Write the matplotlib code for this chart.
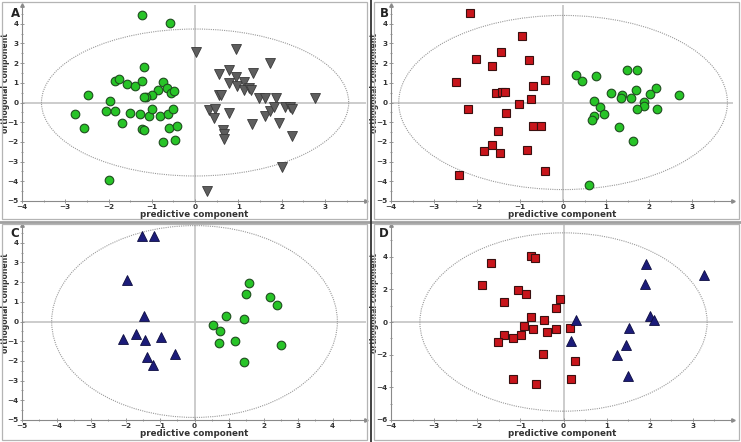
import numpy as np
import matplotlib; matplotlib.use("Agg")
import matplotlib.pyplot as plt
from matplotlib.patches import Ellipse, Rectangle
from matplotlib.lines import Line2D

# ---- data (predictive, orthogonal) ----
a_green_x = [-1.22, -0.57, -1.19, -1.86, -1.76, -1.58, -1.40, -1.22, -0.74, -0.65, -0.56, -0.48, -0.85,
             -1.00, -1.13, -1.17, -2.48, -1.96, -2.78, -2.56, -2.05, -1.84, -1.51, -1.27, -1.06, -1.00,
             -0.82, -0.62, -0.50, -1.68, -1.22, -1.18, -0.61, -0.41, -0.75, -0.46, -1.99]
a_green_y = [4.44, 4.05, 1.80, 1.10, 1.19, 0.95, 0.86, 1.08, 1.02, 0.75, 0.47, 0.58, 0.63,
             0.37, 0.29, 0.27, 0.39, 0.07, -0.56, -1.29, -0.42, -0.41, -0.54, -0.58, -0.66, -0.34,
             -0.69, -0.58, -0.34, -1.03, -1.34, -1.39, -1.31, -1.17, -2.03, -1.92, -3.95]
a_gray_x = [0.01, 0.95, 1.73, 0.56, 0.78, 0.94, 1.34, 0.78, 0.98, 1.12, 1.13, 1.25, 1.30, 0.55, 0.61,
            1.47, 1.62, 1.88, 2.78, 0.32, 0.47, 0.43, 0.79, 0.64, 0.66, 0.66, 1.31, 1.62, 1.72, 1.82,
            1.95, 2.08, 2.19, 2.25, 2.25, 2.00, 0.27]
a_gray_y = [2.54, 2.73, 2.02, 1.47, 1.64, 1.27, 1.51, 0.98, 0.86, 1.02, 0.61, 0.76, 0.63, 0.37, 0.37,
            0.22, 0.25, 0.25, 0.22, -0.36, -0.31, -0.80, -0.54, -1.39, -1.59, -1.85, -1.07, -0.71, -0.44,
            -0.22, -1.02, -0.22, -0.22, -0.32, -1.69, -3.25, -4.49]

b_red_x = [-2.17, -0.95, -1.45, -2.02, -1.66, -0.80, -2.50, -0.42, -0.69, -1.56, -1.41, -1.35, -0.74,
           -1.03, -2.20, -1.32, -0.71, -0.51, -1.52, -1.66, -1.83, -1.47, -0.84, -0.43, -2.41]
b_red_y = [4.53, 3.36, 2.55, 2.19, 1.87, 2.14, 1.04, 1.14, 0.85, 0.49, 0.54, 0.54, 0.19,
           -0.08, -0.31, -0.51, -1.19, -1.17, -1.46, -2.14, -2.46, -2.55, -2.43, -3.50, -3.67]
b_green_x = [0.31, 0.44, 0.77, 1.49, 1.72, 2.17, 1.69, 2.03, 2.69, 1.12, 1.36, 1.34, 1.58, 0.73, 1.87,
             1.87, 0.86, 1.72, 2.18, 0.95, 0.73, 0.68, 1.30, 1.62, 0.60]
b_green_y = [1.38, 1.09, 1.34, 1.63, 1.63, 0.75, 0.65, 0.41, 0.37, 0.48, 0.36, 0.24, 0.24, 0.07, 0.02,
             -0.19, -0.24, -0.32, -0.34, -0.58, -0.71, -0.88, -1.22, -1.97, -4.18]

c_blue_x = [-1.53, -1.18, -1.95, -1.46, -1.70, -2.06, -1.44, -0.97, -0.56, -1.38, -1.20]
c_blue_y = [4.34, 4.32, 2.10, 0.27, -0.63, -0.88, -0.92, -0.80, -1.66, -1.80, -2.19]
c_green_x = [1.59, 1.48, 2.19, 2.40, 0.90, 1.44, 0.55, 0.74, 0.70, 1.17, 2.50, 1.44]
c_green_y = [1.98, 1.42, 1.22, 0.86, 0.27, 0.12, -0.19, -0.47, -1.10, -0.98, -1.19, -2.07]

d_red_x = [-0.76, -0.65, -1.68, -1.89, -1.05, -0.88, -1.38, -0.08, -0.18, -0.75, -0.45, -0.92, -0.70,
           -0.38, -0.18, 0.16, -0.99, -1.38, -1.18, -1.53, -0.48, 0.26, -1.18, 0.18, -0.64]
d_red_y = [4.04, 3.92, 3.63, 2.27, 1.98, 1.71, 1.22, 1.39, 0.86, 0.31, 0.10, -0.22, -0.43,
           -0.61, -0.45, -0.39, -0.78, -0.82, -0.98, -1.22, -1.94, -2.41, -3.47, -3.47, -3.80]
d_blue_x = [1.92, 3.25, 1.88, 2.00, 2.09, 0.28, 1.52, 0.18, 1.45, 1.23, 1.50]
d_blue_y = [3.55, 2.90, 2.33, 0.39, 0.14, 0.12, -0.37, -1.18, -1.43, -2.00, -3.33]

# ellipse semi-axes (x, y) for each panel
ELL = {"A": (3.55, 3.73), "B": (3.82, 4.42), "C": (4.14, 4.87), "D": (3.33, 5.46)}

GREEN = dict(marker="o", ms=6.2, mfc="#27c427", mec="#1f4d1f", mew=0.8)
GRAY = dict(marker="v", ms=7.0, mfc="#5e5e5e", mec="#3a3a3a", mew=0.6)
RED = dict(marker="s", ms=5.6, mfc="#c8151b", mec="#3a1010", mew=0.8)
BLUE = dict(marker="^", ms=7.0, mfc="#1c1c7a", mec="#0d0d40", mew=0.6)

W, H = 741, 442
fig = plt.figure(figsize=(W / 100, H / 100), dpi=100)
fig.patch.set_facecolor("white")


def px_axes(l, r, t, b):
    return fig.add_axes([l / W, 1 - b / H, (r - l) / W, (b - t) / H])


def panel(ax, letter, xlim, ylim, yticks, series):
    ax.set_xlim(*xlim); ax.set_ylim(*ylim)
    ax.axhline(0, color="#c8c8c8", lw=1.3, zorder=1)
    ax.axvline(0, color="#c8c8c8", lw=1.3, zorder=1)
    ew, eh = ELL[letter]
    ax.add_patch(Ellipse((0, 0), 2 * ew, 2 * eh, fill=False, ec="#9a9a9a", lw=0.8, ls=(0, (1, 1)), zorder=2))
    for xs, ys, st in series:
        ax.plot(xs, ys, ls="none", zorder=3, **st)
    for s in ("top", "right"):
        ax.spines[s].set_visible(False)
    for s in ("left", "bottom"):
        ax.spines[s].set_color("#8a8a8a"); ax.spines[s].set_linewidth(0.8)
    ax.set_xticks(np.arange(int(np.ceil(xlim[0])), int(np.floor(xlim[1])) + 1))
    ax.set_yticks(yticks)
    ax.set_xticks(np.arange(xlim[0] + 0.5, xlim[1], 1.0), minor=True)
    ystep = yticks[1] - yticks[0]
    ax.set_yticks(np.arange(ylim[0] + ystep / 2, ylim[1], ystep), minor=True)
    ax.tick_params(which="both", direction="inout", color="#8a8a8a", labelsize=5.2, pad=1, width=0.6)
    ax.tick_params(which="major", length=3); ax.tick_params(which="minor", length=2)
    for lab in ax.get_xticklabels() + ax.get_yticklabels():
        lab.set_fontweight("bold"); lab.set_color("#333333")
    ax.set_xlabel("predictive component", fontsize=6.3, fontweight="bold", color="#333333", labelpad=0)
    ax.set_ylabel("orthogonal component", fontsize=5.6, fontweight="bold", color="#333333")
    ax.yaxis.set_label_coords(-0.036, 0.6)
    # arrow heads on spine ends
    ax.plot(1, 0, ">", color="#8a8a8a", ms=2.5, transform=ax.transAxes, clip_on=False)
    ax.plot(0, 1, "^", color="#8a8a8a", ms=2.5, transform=ax.transAxes, clip_on=False)
    ax.text(-0.02, 0.955, letter, transform=ax.transAxes, fontsize=8.5, fontweight="bold",
            ha="center", va="center", color="#222222")
    ax.set_facecolor("white")


axA = px_axes(22, 366, 5, 201)
panel(axA, "A", (-4, 3.95), (-5, 4.95), list(range(-5, 5)),
      [(a_green_x, a_green_y, GREEN), (a_gray_x, a_gray_y, GRAY)])
axB = px_axes(391, 733, 5, 201)
panel(axB, "B", (-4, 3.95), (-5, 4.95), list(range(-5, 5)),
      [(b_red_x, b_red_y, RED), (b_green_x, b_green_y, GREEN)])
axC = px_axes(22, 366, 225, 420)
panel(axC, "C", (-5, 4.97), (-5, 4.9), list(range(-5, 5)),
      [(c_blue_x, c_blue_y, BLUE), (c_green_x, c_green_y, GREEN)])
axD = px_axes(391, 733, 225, 420)
panel(axD, "D", (-4, 3.93), (-6, 5.94), list(range(-6, 6, 2)),
      [(d_red_x, d_red_y, RED), (d_blue_x, d_blue_y, BLUE)])

# panel frames and dividers (figure pixel coords)
def frame(l, t, r, b):
    fig.add_artist(Rectangle((l / W, 1 - b / H), (r - l) / W, (b - t) / H, transform=fig.transFigure,
                             fill=False, ec="#b4b4b4", lw=0.9))

frame(2, 2, 367, 219)
frame(374, 2, 739, 219)
frame(2, 224, 367, 440)
frame(374, 224, 739, 440)
fig.add_artist(Line2D([0, 1], [1 - 221.5 / H] * 2, transform=fig.transFigure, color="#a0a0a0", lw=2.0))
fig.add_artist(Line2D([370.5 / W] * 2, [0, 1], transform=fig.transFigure, color="#333333", lw=1.3))

fig.savefig("out.png", dpi=100)
